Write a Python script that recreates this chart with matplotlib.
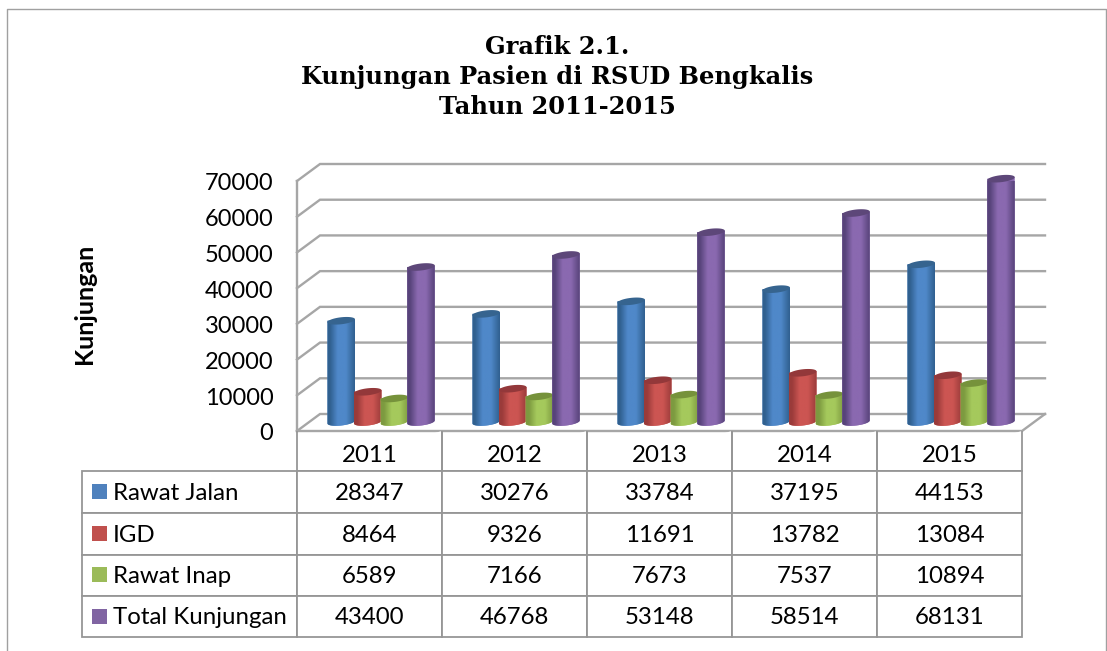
import numpy as np
import matplotlib
matplotlib.use("Agg")
import matplotlib.pyplot as plt
from matplotlib.colors import LinearSegmentedColormap
from matplotlib.patches import PathPatch, Polygon, Rectangle
from matplotlib.path import Path
from matplotlib.transforms import Affine2D, ScaledTranslation

years = ["2011", "2012", "2013", "2014", "2015"]
series_names = ["Rawat Jalan", "IGD", "Rawat Inap", "Total Kunjungan"]
rawat_jalan = [28347, 30276, 33784, 37195, 44153]
igd = [8464, 9326, 11691, 13782, 13084]
rawat_inap = [6589, 7166, 7673, 7537, 10894]
total_kunjungan = [43400, 46768, 53148, 58514, 68131]
y_ticks = list(range(0, 70001, 10000))

series_values = [rawat_jalan, igd, rawat_inap, total_kunjungan]
key_colors = ["#4f81bd", "#c0504d", "#9bbb59", "#8064a2"]
# dark edge, light middle, top cap
bar_shades = [
    ("#30608f", "#4f88c9", "#36648f"),
    ("#9a3b3a", "#cc5552", "#93383a"),
    ("#7d9a40", "#a5c95c", "#76923b"),
    ("#57437a", "#8a69b0", "#5d4779"),
]

W, H = 1107, 651
GRID = "#a6a6a6"
LINE = "#969696"
plt.rcParams['font.family'] = ['Lato', 'DejaVu Sans']

fig = plt.figure(figsize=(W / 100, H / 100), dpi=100)


def px_axes(x0, y0, x1, y1):
    return fig.add_axes([x0 / W, 1 - y1 / H, (x1 - x0) / W, (y1 - y0) / H])


# page frame, title, axis title and legend keys, in pixel units
frame = fig.add_axes([0, 0, 1, 1])
frame.set_xlim(0, W)
frame.set_ylim(H, 0)
frame.axis("off")
frame.set_zorder(5)
frame.plot([7, 7, 1106, 1106], [H, 9, 9, H], color="#a0a0a0", lw=1.0)
frame.text(557, 77, "Grafik 2.1.\nKunjungan Pasien di RSUD Bengkalis\nTahun 2011-2015",
           family="DejaVu Serif", weight="bold", fontsize=17.4, ha="center", va="center",
           linespacing=1.32)
frame.text(84, 304, "Kunjungan", weight="bold", fontsize=18, rotation=90, ha="center", va="center")

# chart: front plane of the 3D box
ax = px_axes(297, 181, 1022, 431)
ax.set_xlim(0, len(years))
ax.set_ylim(0, 70000)
ax.patch.set_alpha(0)
for s in ax.spines.values():
    s.set_visible(False)
ax.set_xticks([])
ax.set_yticks(y_ticks)
ax.tick_params(axis="y", length=0, pad=17, labelsize=17)
for lbl in ax.get_yticklabels():
    lbl.set_transform(lbl.get_transform() + ScaledTranslation(0, -1 / 100, fig.dpi_scale_trans))

depth_x = 23 / 145
depth_y = 17 / 250 * 70000

for v in y_ticks:
    ax.plot([0, depth_x, len(years) + depth_x], [v, v + depth_y, v + depth_y],
            color=GRID, lw=1.7, clip_on=False, zorder=1, solid_joinstyle="miter")
ax.plot([0, 0], [0, 70000], color=GRID, lw=1.7, clip_on=False, zorder=1)
ax.plot([0, len(years), len(years) + depth_x], [0, 0, depth_y],
        color=GRID, lw=1.7, clip_on=False, zorder=1)
ax.add_patch(Polygon([(0, 0), (depth_x, depth_y), (len(years) + depth_x, depth_y), (len(years), 0)],
                     closed=True, facecolor="white", edgecolor="none", zorder=0.5, clip_on=False))

bar_offsets = [0.305, 0.488, 0.671, 0.855]
bar_w = 27.5 / 145
floor = 9 / 250 * 70000
cap_h = 3.5 / 250 * 70000
cap_tilt = 1.5 / 250 * 70000
t = np.linspace(0, 2 * np.pi, 61)

for k, (vals, shades, off) in enumerate(zip(series_values, bar_shades, bar_offsets)):
    cmap = LinearSegmentedColormap.from_list(
        "cyl", [(0, shades[0]), (0.1, shades[0]), (0.38, shades[1]), (0.68, shades[1]), (1, shades[0])])
    for i, v in enumerate(vals):
        cx = i + off
        top = floor + v
        ex = bar_w / 2 * np.cos(t)
        ey = cap_h * np.sin(t) + cap_tilt * np.cos(t)
        low = t[30:]
        side = np.column_stack([
            np.r_[cx - bar_w / 2, cx + bar_w / 2 * np.cos(low), cx + bar_w / 2, cx - bar_w / 2],
            np.r_[top, floor + cap_h * np.sin(low) + cap_tilt * np.cos(low), top + cap_tilt, top],
        ])
        body = PathPatch(Path(side), facecolor=shades[1], edgecolor="none", zorder=2 + k + i * 5, clip_on=False)
        ax.add_patch(body)
        img = ax.imshow(np.linspace(0, 1, 64).reshape(1, -1), cmap=cmap, aspect="auto",
                        extent=[cx - bar_w / 2, cx + bar_w / 2, floor - cap_h * 2, top + cap_h * 2],
                        zorder=2.1 + k + i * 5, clip_on=True)
        img.set_clip_path(body)
        ax.add_patch(Polygon(np.column_stack([cx + ex, top + ey]), closed=True, facecolor=shades[2],
                             edgecolor="none", zorder=2.2 + k + i * 5, clip_on=False))
ax.set_xlim(0, len(years))
ax.set_ylim(0, 70000)

# data table
ax_t = px_axes(82, 431, 1022, 637)
ax_t.axis("off")
col_w = [215] + [145] * len(years)
rows = [[""] + years]
for name, vals in zip(series_names, series_values):
    rows.append([name] + [str(v) for v in vals])
tbl = ax_t.table(cellText=rows, colWidths=[c / sum(col_w) for c in col_w], bbox=[0, 0, 1, 1],
                 cellLoc="center")
tbl.auto_set_font_size(False)
row_h = [40, 42, 42, 41, 41]
for (r, c), cell in tbl.get_celld().items():
    cell.set_height(row_h[r] / sum(row_h))
    cell.set_edgecolor(LINE)
    cell.set_linewidth(1.3)
    cell.set_fontsize(17.3)
    # cell text sits in display coordinates
    cell.get_text().set_transform(Affine2D().translate(0, -5 if r == 0 else -1))
    if r == 0 and c == 0:
        cell.visible_edges = ""
    if r == 0 and c > 0:
        cell.visible_edges = "LRB"
    if c == 0 and r > 0:
        cell.get_text().set_ha("left")
        cell.PAD = 31 / 215

row_mid = [491.5, 533.5, 575, 616.5]
for color, ym in zip(key_colors, row_mid):
    frame.add_patch(Rectangle((92, ym - 8), 15, 15, facecolor=color, edgecolor="none"))

fig.savefig("out.png", dpi=100, facecolor="white")
